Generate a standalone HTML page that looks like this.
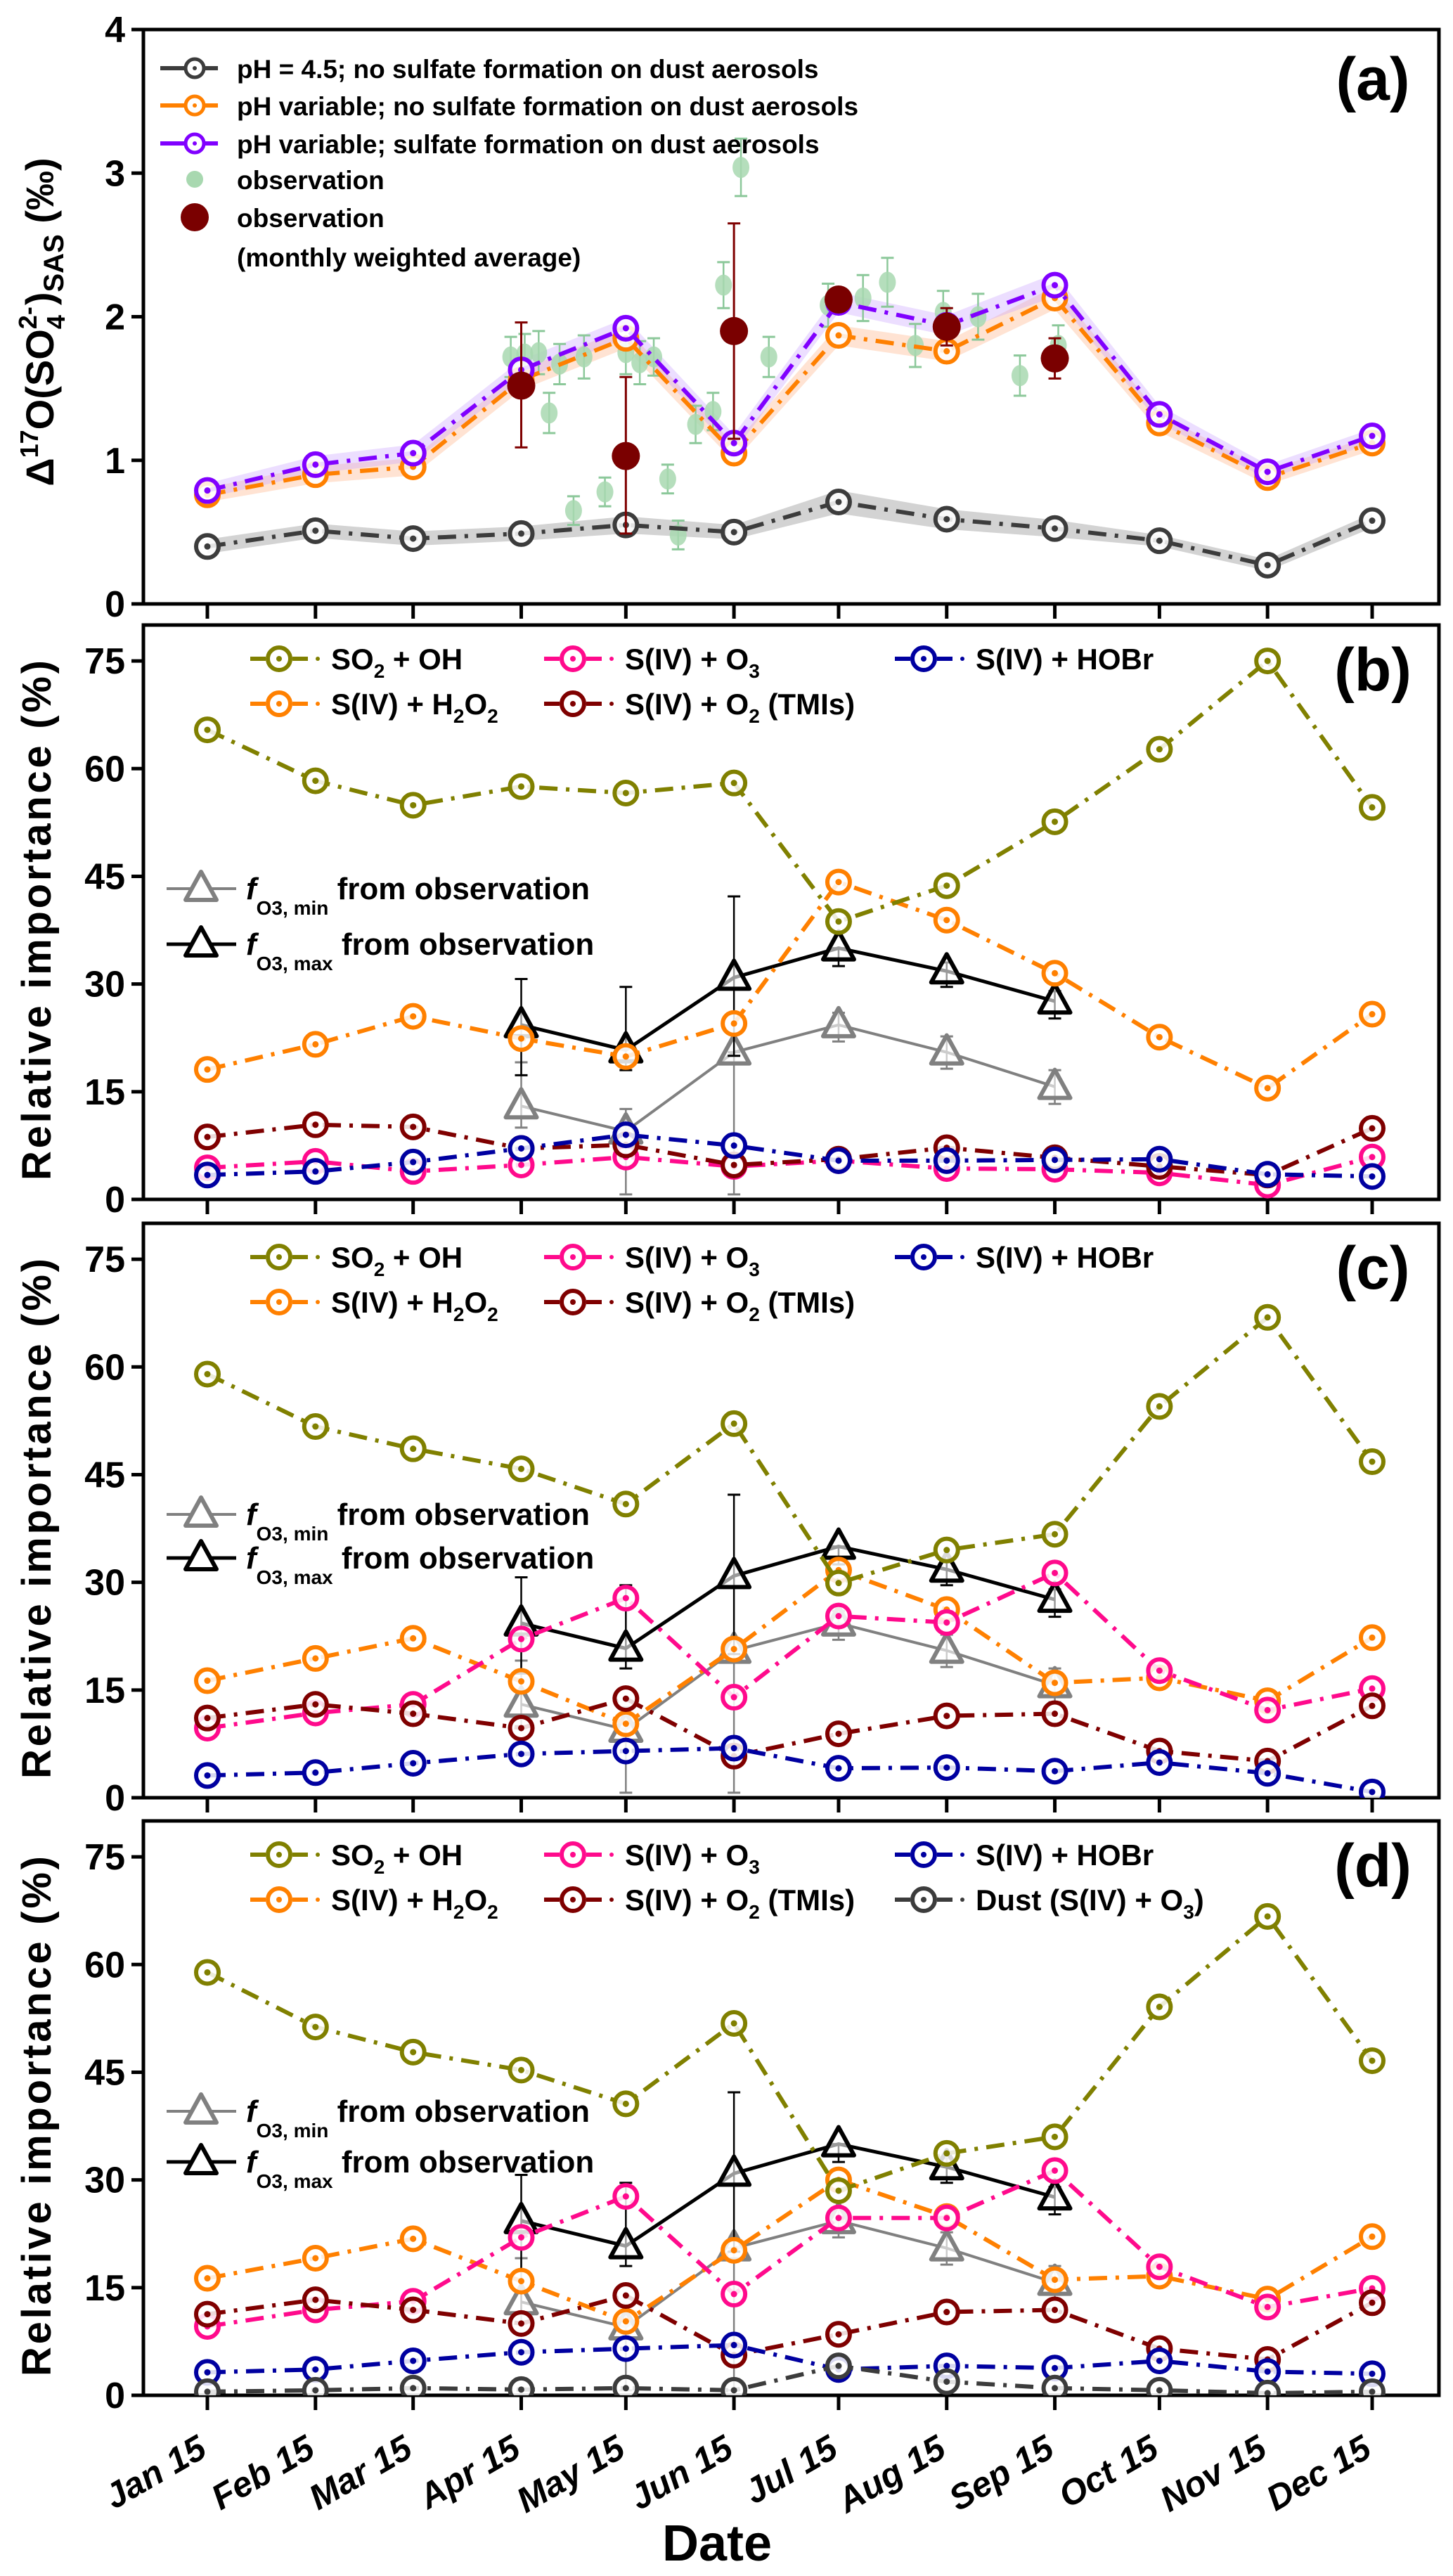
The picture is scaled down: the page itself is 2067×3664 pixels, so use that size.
<!DOCTYPE html>
<html><head><meta charset="utf-8"><style>
html,body{margin:0;padding:0;background:#fff}
svg{display:block}
text{font-family:"Liberation Sans",Arial,sans-serif;font-weight:bold}
</style></head><body>
<svg id="fig" xmlns="http://www.w3.org/2000/svg" width="2067" height="3664" viewBox="0 0 2067 3664">
<defs>
<clipPath id="clipA"><rect x="204" y="42" width="1843" height="817"/></clipPath>
<clipPath id="clipB"><rect x="204" y="889" width="1843" height="817"/></clipPath>
<clipPath id="clipC"><rect x="204" y="1740" width="1843" height="817"/></clipPath>
<clipPath id="clipD"><rect x="204" y="2590" width="1843" height="817"/></clipPath>
</defs>
</svg>
<script>
// ---------- data ----------
const monthLabels = ["Jan 15","Feb 15","Mar 15","Apr 15","May 15","Jun 15","Jul 15","Aug 15","Sep 15","Oct 15","Nov 15","Dec 15"];
const monthDoy = [14,45,73,104,134,165,195,226,257,287,318,348];
// panel a
const aGray = [0.40,0.51,0.455,0.49,0.55,0.50,0.71,0.59,0.525,0.44,0.27,0.58];
const aGrayBand = [0.05,0.05,0.05,0.05,0.06,0.05,0.08,0.07,0.06,0.04,0.04,0.05];
const aOrange = [0.76,0.90,0.955,1.56,1.85,1.05,1.87,1.76,2.13,1.26,0.88,1.12];
const aPurple = [0.79,0.97,1.05,1.63,1.92,1.12,2.10,1.94,2.22,1.32,0.92,1.17];
const aBand = [0.05,0.06,0.06,0.07,0.07,0.06,0.07,0.07,0.08,0.06,0.05,0.05];
const obsDoy = [101,105,109,112,115,122,119,128,134,138,142,146,149,154,159,162,167,175,192,202,209,217,225,235,247,258];
const obsVal = [1.72,1.74,1.75,1.33,1.67,1.72,0.65,0.78,1.75,1.68,1.72,0.87,0.48,1.25,1.34,2.22,3.04,1.72,2.08,2.13,2.24,1.80,2.03,2.00,1.59,1.80];
const obsErr = [0.14,0.14,0.15,0.14,0.14,0.15,0.1,0.1,0.15,0.15,0.13,0.1,0.1,0.13,0.13,0.16,0.2,0.14,0.15,0.16,0.17,0.15,0.15,0.16,0.14,0.14];
const avgMonthIdx = [3,4,5,6,7,8];
const avgVal = [1.52,1.03,1.90,2.12,1.93,1.71];
const avgLo = [1.09,0.49,1.15,2.10,1.80,1.57];
const avgHi = [1.96,1.58,2.65,2.14,2.06,1.85];
// f_O3 from observation (Apr..Sep)
const fIdx = [3,4,5,6,7,8];
const fMin = [13.0,9.5,20.5,24.3,20.5,15.7];
const fMinLo = [10.0,0.7,0.7,22.0,18.2,13.3];
const fMinHi = [19.1,12.6,20.5,26.0,22.7,18.0];
const fMax = [24.3,20.8,30.9,35.0,31.8,27.6];
const fMaxLo = [17.3,18.0,20.0,32.5,29.6,25.2];
const fMaxHi = [30.7,29.6,42.2,35.0,33.0,29.0];
// panel b
const bSO2OH = [65.4,58.3,54.9,57.5,56.6,58.0,38.7,43.7,52.6,62.7,75.0,54.6];
const bH2O2 = [18.1,21.6,25.5,22.4,19.9,24.5,44.2,38.9,31.5,22.6,15.5,25.8];
const bO3 = [4.4,5.3,3.9,4.8,5.9,4.6,5.4,4.3,4.2,3.7,2.0,5.9];
const bTMI = [8.7,10.4,10.1,7.1,7.6,4.8,5.6,7.2,5.8,4.6,3.4,9.9];
const bHOBr = [3.4,3.9,5.2,7.1,9.0,7.5,5.4,5.4,5.5,5.6,3.5,3.2];
// panel c
const cSO2OH = [59.0,51.7,48.6,45.8,40.9,52.1,29.9,34.5,36.7,54.5,66.9,46.8];
const cH2O2 = [16.3,19.4,22.2,16.2,10.3,20.7,31.7,26.2,16.0,16.7,13.5,22.3];
const cO3 = [9.7,11.8,13.0,22.1,27.8,14.0,25.3,24.4,31.3,17.7,12.2,15.2];
const cTMI = [11.1,13.0,11.7,9.7,13.8,5.8,8.9,11.4,11.7,6.5,5.1,12.8];
const cHOBr = [3.1,3.5,4.8,6.1,6.5,6.9,4.1,4.2,3.7,4.9,3.4,0.8];
// panel d
const dSO2OH = [58.9,51.3,47.8,45.3,40.6,51.8,28.5,33.7,36.0,54.1,66.7,46.6];
const dH2O2 = [16.3,19.1,21.8,15.9,10.3,20.2,30.0,24.9,16.1,16.6,13.4,22.1];
const dO3 = [9.6,11.9,13.1,22.0,27.7,14.1,24.7,24.7,31.3,17.9,12.3,14.9];
const dTMI = [11.3,13.3,11.9,10.0,13.9,5.6,8.5,11.6,11.9,6.5,5.0,12.9];
const dHOBr = [3.2,3.6,4.8,6.0,6.5,7.0,3.6,4.1,3.8,4.8,3.3,3.0];
const dDust = [0.5,0.7,1.0,0.8,1.0,0.7,4.1,1.9,1.0,0.7,0.3,0.5];
const aTicks = ["0","1","2","3","4"];
const rTicks = ["0","15","30","45","60","75"];

// ---------- helpers ----------
const NS="http://www.w3.org/2000/svg";
const svg=document.getElementById('fig');
function mk(tag,attrs,parent){const e=document.createElementNS(NS,tag);for(const k in attrs)e.setAttribute(k,attrs[k]);(parent||svg).appendChild(e);return e;}
const X0=204,X1=2047,XL=295,XR=1952;
function xs(doy){return XL+(doy-14)*(XR-XL)/(348-14);}
const C={olive:"#808000",orange:"#ff8000",pink:"#ff0a8c",maroon:"#7f0000",navy:"#0000a0",dgray:"#3c3c3c",purple:"#8000ff",gray:"#808080"};
const DASH="26 12 5 12";

function frame(top,bottom,name){
  const r=mk('rect',{x:X0,y:top,width:X1-X0,height:bottom-top,fill:'none',stroke:'#000','stroke-width':5});
  
  
  monthDoy.forEach((d,i)=>{const t=mk('line',{x1:xs(d),x2:xs(d),y1:bottom,y2:bottom+21,stroke:'#000','stroke-width':5});
    
    });
}
function yaxis(top,bottom,vmax,ticks,step,name){
  ticks.forEach((lab,i)=>{const v=i*step;const y=bottom-(v/vmax)*(bottom-top);
    const t=mk('line',{x1:X0-17,x2:X0,y1:y,y2:y,stroke:'#000','stroke-width':5});
    
    
    const tx=mk('text',{x:X0-26,y:y+18,'text-anchor':'end','font-size':52});tx.textContent=lab;
    
    });
}
function series(vals,color,ysc,clip,name,withLine){
  const g=mk('g',{'clip-path':'url(#'+clip+')'});
  
  
  const pts=vals.map((v,i)=>[xs(monthDoy[i]),ysc(v)]);
  if(withLine!==false){const p=mk('polyline',{points:pts.map(p=>p.join(',')).join(' '),fill:'none',stroke:color,'stroke-width':6,'stroke-dasharray':DASH},g);
    
    }
  pts.forEach(p=>{const c=mk('circle',{cx:p[0],cy:p[1],r:16,fill:'#fff','fill-opacity':0.85,stroke:color,'stroke-width':6},g);
    
    
    mk('circle',{cx:p[0],cy:p[1],r:4.5,fill:color},g);});
  return g;
}
function tri(cx,cy,color,parent){return mk('path',{d:`M${cx},${cy-24} L${cx+22},${cy+16} L${cx-22},${cy+16} Z`,fill:'#fff','fill-opacity':0.6,stroke:color,'stroke-width':6,'stroke-linejoin':'round'},parent);}
function errbar(x,y1,y2,color,w,parent){
  mk('line',{x1:x,x2:x,y1:y1,y2:y2,stroke:color,'stroke-width':w},parent);
  mk('line',{x1:x-9,x2:x+9,y1:y1,y2:y1,stroke:color,'stroke-width':3},parent);
  mk('line',{x1:x-9,x2:x+9,y1:y2,y2:y2,stroke:color,'stroke-width':3},parent);
}
function fseries(vals,lo,hi,color,ysc,name,lw){
  const g=mk('g',{});
  
  
  const pts=vals.map((v,i)=>[xs(monthDoy[fIdx[i]]),ysc(v)]);
  vals.forEach((v,i)=>errbar(pts[i][0],ysc(lo[i]),ysc(hi[i]),color,2.5,g));
  const p=mk('polyline',{points:pts.map(p=>p.join(',')).join(' '),fill:'none',stroke:color,'stroke-width':lw},g);
  
  
  pts.forEach(p=>{const t=tri(p[0],p[1],color,g);
    
    });
}
function legItem(x,y,color,label,subs,name,dotAfter){
  const g=mk('g',{});
  
  
  mk('line',{x1:x,x2:x+22,y1:y,y2:y,stroke:color,'stroke-width':6},g);
  mk('line',{x1:x+60,x2:x+82,y1:y,y2:y,stroke:color,'stroke-width':6},g);
  mk('circle',{cx:x+41,cy:y,r:16,fill:'#fff',stroke:color,'stroke-width':6},g);
  mk('circle',{cx:x+41,cy:y,r:4,fill:color},g);
  if(dotAfter)mk('circle',{cx:x+96,cy:y,r:3,fill:color},g);
  const t=mk('text',{x:x+115,y:y+15,'font-size':42},g);
  t.innerHTML=label;
  return g;
}
function panelLabel(lab,y){const t=mk('text',{x:1953,y:y,'text-anchor':'middle','font-size':86});t.textContent=lab;
  
  }

// ---------- panel a ----------
(function(){
  const top=42,bot=859;const ys=v=>bot-v/4*(bot-top);
  frame(top,bot,'panel-a');yaxis(top,bot,4,aTicks,1,'panel-a');
  function band(vals,bw,color,name){const up=vals.map((v,i)=>xs(monthDoy[i])+','+ys(v+bw[i]));
    const dn=vals.map((v,i)=>xs(monthDoy[i])+','+ys(v-bw[i])).reverse();
    const p=mk('polygon',{points:up.concat(dn).join(' '),fill:color,'fill-opacity':0.35,stroke:'none','clip-path':'url(#clipA)'});
    
    }
  band(aGray,aGrayBand,'#808080','ph45-band');
  band(aOrange,aBand,'#ffb080','orange-band');
  band(aPurple,aBand,'#c8a0ff','purple-band');
  const og=mk('g',{'clip-path':'url(#clipA)'});
  
  
  obsVal.forEach((v,i)=>{const x=xs(obsDoy[i]);errbar(x,ys(v-obsErr[i]),ys(v+obsErr[i]),'#8cc89a',2.5,og);
    const c=mk('ellipse',{cx:x,cy:ys(v),rx:12,ry:15,fill:'#a8d8b0','fill-opacity':0.85},og);
    
    });
  series(aGray,C.dgray,ys,'clipA','ph45-series');
  series(aOrange,C.orange,ys,'clipA','ph-variable-no-dust-series');
  series(aPurple,C.purple,ys,'clipA','ph-variable-dust-series');
  const mg=mk('g',{});
  
  
  avgVal.forEach((v,i)=>{const x=xs(monthDoy[avgMonthIdx[i]]);errbar(x,ys(avgLo[i]),ys(avgHi[i]),C.maroon,3,mg);
    const c=mk('circle',{cx:x,cy:ys(v),r:20,fill:'#7a0000'},mg);
    
    });
  const lg=mk('g',{});
  
  
  const rows=[[97,C.dgray,'pH = 4.5; no sulfate formation on dust aerosols'],[150,C.orange,'pH variable; no sulfate formation on dust aerosols'],[204,C.purple,'pH variable; sulfate formation on dust aerosols']];
  rows.forEach(r=>{const g=mk('g',{},lg);
    
    
    mk('line',{x1:228,x2:310,y1:r[0],y2:r[0],stroke:r[1],'stroke-width':6},g);
    mk('circle',{cx:277,cy:r[0],r:13,fill:'#fff',stroke:r[1],'stroke-width':5},g);
    mk('circle',{cx:277,cy:r[0],r:3,fill:r[1]},g);
    const t=mk('text',{x:337,y:r[0]+14,'font-size':37},g);t.textContent=r[2];});
  mk('ellipse',{cx:277,cy:255,rx:12,ry:12,fill:'#a8d8b0'},lg);
  let t=mk('text',{x:337,y:269,'font-size':37},lg);t.textContent='observation';
  mk('circle',{cx:277,cy:309,r:20,fill:'#7a0000'},lg);
  t=mk('text',{x:337,y:323,'font-size':37},lg);t.textContent='observation';
  t=mk('text',{x:337,y:379,'font-size':37},lg);t.textContent='(monthly weighted average)';
  panelLabel('(a)',142);
  const yt=mk('text',{x:0,y:0,'font-size':56,transform:'translate(76,458) rotate(-90)','text-anchor':'middle'});
  yt.innerHTML='Δ<tspan font-size="36" dy="-22">17</tspan><tspan dy="22">O(SO</tspan><tspan font-size="36" dy="-24">2-</tspan><tspan font-size="36" dx="-32" dy="40">4</tspan><tspan dx="14" dy="-16">)</tspan><tspan font-size="40" dy="14">SAS</tspan><tspan dy="-14"> (‰)</tspan>';
  
  
})();

// ---------- relative importance panels ----------
function relPanel(top,clip,lab,sets,leg,triOff){
  const bot=top+817;const ys=v=>bot-v/80*817;
  frame(top,bot,'panel-'+lab);yaxis(top,bot,80,rTicks,15,'panel-'+lab);
  fseries(fMin,fMinLo,fMinHi,C.gray,ys,'f-o3-min-'+lab,4);
  fseries(fMax,fMaxLo,fMaxHi,'#000',ys,'f-o3-max-'+lab,5);
  sets.forEach(s=>series(s[0],s[1],ys,clip,s[2]+'-'+lab));
  const r1=top+48,r2=top+112;
  legItem(356,r1,C.olive,'SO<tspan font-size="28" dy="12">2</tspan><tspan dy="-12"> + OH</tspan>','','legend-so2-oh',true);
  legItem(774,r1,C.pink,'S(IV) + O<tspan font-size="28" dy="12">3</tspan>','','legend-o3',true);
  legItem(1273,r1,C.navy,'S(IV) + HOBr','','legend-hobr',true);
  legItem(356,r2,C.orange,'S(IV) + H<tspan font-size="28" dy="12">2</tspan><tspan dy="-12">O</tspan><tspan font-size="28" dy="12">2</tspan>','','legend-h2o2',true);
  legItem(774,r2,C.maroon,'S(IV) + O<tspan font-size="28" dy="12">2</tspan><tspan dy="-12"> (TMIs)</tspan>','','legend-tmi',true);
  if(leg)legItem(1273,r2,C.dgray,'Dust (S(IV) + O<tspan font-size="28" dy="12">3</tspan><tspan dy="-12">)</tspan>','','legend-dust',true);
  [[triOff[0],C.gray,'min',4],[triOff[1],'#000','max',5]].forEach(r=>{const y=top+r[0];const g=mk('g',{});
    
    
    mk('line',{x1:237,x2:336,y1:y,y2:y,stroke:r[1],'stroke-width':r[3]},g);
    tri(286,y,r[1],g).setAttribute('fill-opacity',1);
    const t=mk('text',{x:350,y:y+15,'font-size':44},g);
    t.innerHTML='<tspan font-style="italic">f</tspan><tspan font-size="28" dy="22">O3, '+r[2]+'</tspan><tspan dy="-22"> from observation</tspan>';});
  panelLabel('('+lab+')',top+93);
  const yt=mk('text',{x:0,y:0,'font-size':58,transform:`translate(72,${top+420}) rotate(-90)`,'text-anchor':'middle',textLength:740,lengthAdjust:'spacing'});
  yt.textContent='Relative importance (%)';
  
  
}
relPanel(889,'clipB','b',[[bH2O2,C.orange,'h2o2'],[bSO2OH,C.olive,'so2-oh'],[bO3,C.pink,'o3'],[bTMI,C.maroon,'tmi'],[bHOBr,C.navy,'hobr']],false,[375,454]);
relPanel(1740,'clipC','c',[[cH2O2,C.orange,'h2o2'],[cSO2OH,C.olive,'so2-oh'],[cO3,C.pink,'o3'],[cTMI,C.maroon,'tmi'],[cHOBr,C.navy,'hobr']],false,[414,476]);
relPanel(2590,'clipD','d',[[dH2O2,C.orange,'h2o2'],[dSO2OH,C.olive,'so2-oh'],[dO3,C.pink,'o3'],[dTMI,C.maroon,'tmi'],[dHOBr,C.navy,'hobr'],[dDust,C.dgray,'dust']],true,[413,485]);

monthLabels.forEach((l,i)=>{const x=xs(monthDoy[i]);const t=mk('text',{x:0,y:0,'font-size':50,'font-style':'italic','text-anchor':'end',transform:`translate(${x+2},${3492}) rotate(-30)`});
  t.textContent=l;
  
  });
const xt=mk('text',{x:1020,y:3642,'font-size':72,'text-anchor':'middle'});xt.textContent='Date';


</script>
</body></html>
